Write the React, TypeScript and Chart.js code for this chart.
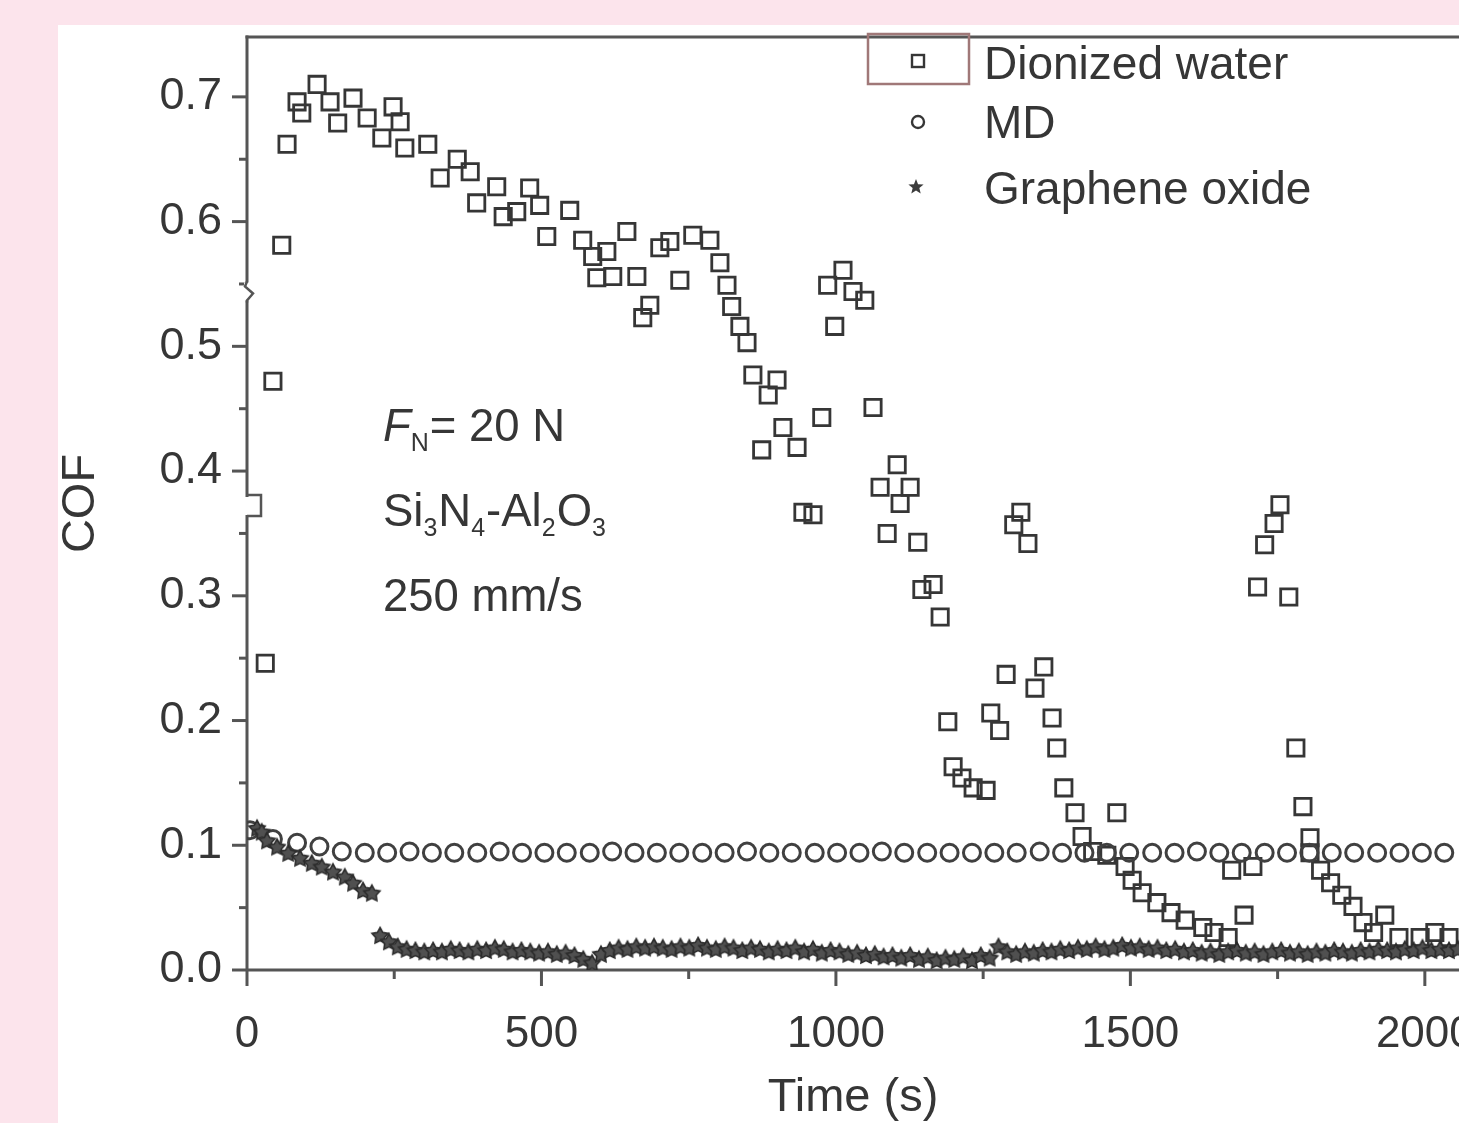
import React, { useEffect, useRef } from "react";
import { Chart, registerables } from "chart.js";

Chart.register(...registerables);

// ---------- data ----------
const dwTime = [31, 44, 59, 68, 85, 93, 119, 141, 154, 180, 204, 229, 248, 260, 268, 307, 328, 357, 379, 390, 424, 435, 458, 480, 497, 509, 548, 570, 587, 611, 594, 621, 645, 662, 684, 672, 701, 718, 735, 757, 786, 803, 815, 823, 837, 849, 859, 900, 885, 910, 874, 934, 976, 944, 961, 986, 1012, 1029, 1049, 998, 1063, 1104, 1075, 1126, 1109, 1087, 1139, 1165, 1146, 1177, 1190, 1199, 1214, 1233, 1255, 1263, 1278, 1289, 1314, 1302, 1326, 1338, 1353, 1367, 1375, 1387, 1406, 1418, 1436, 1460, 1477, 1491, 1503, 1520, 1545, 1569, 1593, 1623, 1642, 1666, 1672, 1693, 1708, 1716, 1728, 1744, 1754, 1769, 1781, 1793, 1805, 1805, 1823, 1840, 1859, 1878, 1895, 1913, 1932, 1956, 1992, 2017, 2041];
const dwCof = [0.246, 0.472, 0.581, 0.662, 0.696, 0.687, 0.71, 0.696, 0.679, 0.699, 0.683, 0.667, 0.692, 0.68, 0.659, 0.662, 0.635, 0.65, 0.64, 0.615, 0.628, 0.604, 0.608, 0.627, 0.613, 0.588, 0.609, 0.585, 0.572, 0.576, 0.555, 0.556, 0.592, 0.556, 0.533, 0.523, 0.579, 0.584, 0.553, 0.589, 0.585, 0.567, 0.549, 0.532, 0.516, 0.503, 0.477, 0.473, 0.461, 0.435, 0.417, 0.419, 0.443, 0.367, 0.365, 0.549, 0.561, 0.544, 0.537, 0.516, 0.451, 0.405, 0.387, 0.387, 0.374, 0.35, 0.343, 0.309, 0.305, 0.283, 0.199, 0.163, 0.154, 0.146, 0.144, 0.206, 0.192, 0.237, 0.367, 0.357, 0.342, 0.226, 0.243, 0.202, 0.178, 0.146, 0.126, 0.107, 0.095, 0.092, 0.126, 0.083, 0.072, 0.062, 0.054, 0.046, 0.04, 0.034, 0.03, 0.026, 0.08, 0.044, 0.083, 0.307, 0.341, 0.358, 0.373, 0.299, 0.178, 0.131, 0.106, 0.094, 0.08, 0.07, 0.06, 0.051, 0.038, 0.03, 0.044, 0.026, 0.026, 0.03, 0.026];

const mdTime = [5, 44, 85, 123, 161, 200, 238, 276, 314, 352, 391, 429, 467, 505, 543, 582, 620, 658, 696, 734, 773, 811, 849, 887, 925, 964, 1002, 1040, 1078, 1116, 1155, 1193, 1231, 1269, 1307, 1346, 1384, 1422, 1460, 1498, 1537, 1575, 1613, 1651, 1689, 1728, 1766, 1804, 1842, 1880, 1919, 1957, 1995, 2033];
const mdCof = [0.112, 0.105, 0.102, 0.099, 0.095, 0.094, 0.094, 0.095, 0.094, 0.094, 0.094, 0.095, 0.094, 0.094, 0.094, 0.094, 0.095, 0.094, 0.094, 0.094, 0.094, 0.094, 0.095, 0.094, 0.094, 0.094, 0.094, 0.094, 0.095, 0.094, 0.094, 0.094, 0.094, 0.094, 0.094, 0.095, 0.094, 0.094, 0.094, 0.094, 0.094, 0.094, 0.095, 0.094, 0.094, 0.094, 0.094, 0.094, 0.094, 0.094, 0.094, 0.094, 0.094, 0.094];

const goTime = [17, 25, 34, 51, 70, 90, 110, 127, 146, 166, 180, 197, 212, 226, 241, 256, 271, 286, 301, 316, 331, 346, 361, 376, 391, 406, 421, 436, 451, 466, 481, 496, 511, 526, 541, 556, 571, 586, 601, 616, 631, 646, 661, 676, 691, 706, 721, 736, 751, 766, 781, 796, 811, 826, 841, 856, 871, 886, 901, 916, 931, 946, 961, 976, 991, 1006, 1021, 1036, 1051, 1066, 1081, 1096, 1111, 1126, 1141, 1156, 1171, 1186, 1201, 1216, 1231, 1246, 1261, 1276, 1291, 1306, 1321, 1336, 1351, 1366, 1381, 1396, 1411, 1426, 1441, 1456, 1471, 1486, 1501, 1516, 1531, 1546, 1561, 1576, 1591, 1606, 1621, 1636, 1651, 1666, 1681, 1696, 1711, 1726, 1741, 1756, 1771, 1786, 1801, 1816, 1831, 1846, 1861, 1876, 1891, 1906, 1921, 1936, 1951, 1966, 1981, 1996, 2011, 2026, 2041, 2056];
const goCof = [0.114, 0.111, 0.104, 0.099, 0.094, 0.09, 0.086, 0.083, 0.079, 0.075, 0.07, 0.064, 0.062,
  0.028, 0.023, 0.019, 0.017, 0.016, 0.015, 0.016, 0.015, 0.017, 0.016, 0.015, 0.017, 0.016, 0.018, 0.017, 0.015, 0.016, 0.015, 0.014, 0.015, 0.013, 0.014, 0.012, 0.009, 0.006, 0.013,
  0.016, 0.018, 0.017, 0.019, 0.018, 0.019, 0.018, 0.017, 0.019, 0.018, 0.02, 0.018, 0.017, 0.019, 0.018, 0.016, 0.018, 0.017, 0.015, 0.017, 0.016, 0.018, 0.015, 0.017, 0.014, 0.016,
  0.015, 0.013, 0.014, 0.012, 0.013, 0.011, 0.012, 0.01, 0.012, 0.009, 0.011, 0.008, 0.01, 0.009, 0.011, 0.008, 0.012, 0.01, 0.019, 0.015, 0.013, 0.015, 0.014, 0.016, 0.015, 0.017,
  0.016, 0.018, 0.017, 0.019, 0.017, 0.018, 0.02, 0.018, 0.019, 0.017, 0.018, 0.016, 0.017, 0.015, 0.016, 0.014, 0.015, 0.013, 0.015, 0.016, 0.014, 0.015, 0.013, 0.015, 0.016,
  0.014, 0.015, 0.013, 0.015, 0.014, 0.016, 0.015, 0.014, 0.016, 0.015, 0.017, 0.016, 0.015, 0.017, 0.016, 0.018, 0.016, 0.017, 0.016, 0.017];

const seriesLabels = ["Dionized water", "MD", "Graphene oxide"];
const xMajorTicks = [0, 500, 1000, 1500, 2000];
const xMinorTicks = [250, 750, 1250, 1750];
const yMajorTicks = [0, 0.1, 0.2, 0.3, 0.4, 0.5, 0.6, 0.7];
const yMinorTicks = [0.05, 0.15, 0.25, 0.35, 0.45, 0.55, 0.65];
const yBreaks = [0.544, 0.372];
const xMin = 0;
const xMax = 2058;
const yMin = 0;
const yMax = 0.748;
const xTitle = "Time (s)";
const yTitle = "COF";

// ---------- style ----------
const FONT = '"Liberation Sans", Arial, Helvetica, sans-serif';
const TEXT = "#363636";
const AXIS = "#555555";
const MARK = "#363636";

function starPath(ctx: CanvasRenderingContext2D, cx: number, cy: number, ro: number, ri: number) {
  ctx.beginPath();
  for (let i = 0; i < 10; i++) {
    const r = i % 2 === 0 ? ro : ri;
    const a = -Math.PI / 2 + (i * Math.PI) / 5;
    const px = cx + r * Math.cos(a);
    const py = cy + r * Math.sin(a);
    if (i === 0) ctx.moveTo(px, py);
    else ctx.lineTo(px, py);
  }
  ctx.closePath();
}

function makeStar(size: number) {
  const c = document.createElement("canvas");
  c.width = size;
  c.height = size;
  const g = c.getContext("2d")!;
  starPath(g, size / 2, size / 2 + 1, size / 2 - 1.5, size / 4.4);
  g.fillStyle = "#505050";
  g.fill();
  g.lineWidth = 1.6;
  g.strokeStyle = "#2c2c2c";
  g.stroke();
  return c;
}

type Run = { t: string; sub?: boolean; italic?: boolean };

function drawRuns(ctx: CanvasRenderingContext2D, x: number, y: number, runs: Run[]) {
  let cx = x;
  ctx.textBaseline = "alphabetic";
  ctx.textAlign = "left";
  for (const r of runs) {
    const size = r.sub ? 25 : 45.5;
    ctx.font = `${r.italic ? "italic " : ""}${size}px ${FONT}`;
    ctx.fillText(r.t, cx, r.sub ? y + 10 : y);
    cx += ctx.measureText(r.t).width + (r.sub ? 1 : 0);
  }
}

const axesPlugin = {
  id: "axesDraw",
  beforeDatasetsDraw(chart: any) {
    const { ctx, chartArea: a, scales } = chart;
    const xs = scales.x;
    const ys = scales.y;
    ctx.save();
    ctx.strokeStyle = AXIS;
    ctx.lineWidth = 3;
    const line = (x1: number, y1: number, x2: number, y2: number) => {
      ctx.beginPath();
      ctx.moveTo(x1, y1);
      ctx.lineTo(x2, y2);
      ctx.stroke();
    };
    line(a.left, a.top - 1.5, a.left, a.bottom);
    line(a.left - 1.5, a.top, a.right, a.top);
    line(a.left, a.bottom, a.right, a.bottom);
    for (const v of yMajorTicks) {
      const p = ys.getPixelForValue(v);
      line(a.left - 15, p, a.left, p);
    }
    for (const v of yMinorTicks) {
      const p = ys.getPixelForValue(v);
      line(a.left - 8, p, a.left, p);
    }
    for (const v of xMajorTicks) {
      const p = xs.getPixelForValue(v);
      line(p, a.bottom, p, a.bottom + 16);
    }
    for (const v of xMinorTicks) {
      const p = xs.getPixelForValue(v);
      line(p, a.bottom, p, a.bottom + 9);
    }
    // axis breaks
    yBreaks.forEach((v, i) => {
      const p = ys.getPixelForValue(v);
      ctx.fillStyle = "#ffffff";
      ctx.fillRect(a.left - 3, p - 9, 6, 18);
      ctx.lineWidth = 2.5;
      ctx.beginPath();
      if (i === 0) {
        ctx.moveTo(a.left, p - 10);
        ctx.lineTo(a.left - 2, p - 5);
        ctx.lineTo(a.left + 6, p + 2);
        ctx.lineTo(a.left, p + 9);
        ctx.lineTo(a.left, p + 11);
      } else {
        ctx.moveTo(a.left, p - 11);
        ctx.lineTo(a.left + 14, p - 11);
        ctx.lineTo(a.left + 14, p + 10);
        ctx.lineTo(a.left, p + 10);
      }
      ctx.stroke();
      ctx.lineWidth = 3;
    });
    ctx.restore();
  },
  afterDatasetsDraw(chart: any) {
    const { ctx } = chart;
    ctx.save();
    ctx.fillStyle = TEXT;
    // annotation text
    drawRuns(ctx, 325, 416, [{ t: "F", italic: true }, { t: "N", sub: true }, { t: "= 20 N" }]);
    drawRuns(ctx, 325, 501, [
      { t: "Si" }, { t: "3", sub: true }, { t: "N" }, { t: "4", sub: true },
      { t: "-Al" }, { t: "2", sub: true }, { t: "O" }, { t: "3", sub: true },
    ]);
    drawRuns(ctx, 325, 586, [{ t: "250 mm/s" }]);

    // legend
    const mx = 860;
    const rows = [36, 97, 162];
    ctx.strokeStyle = "#a07878";
    ctx.lineWidth = 2.5;
    ctx.strokeRect(810, 9, 101, 50);
    ctx.strokeStyle = MARK;
    ctx.lineWidth = 2.4;
    ctx.strokeRect(mx - 6, rows[0] - 6, 12, 12);
    ctx.beginPath();
    ctx.arc(mx, rows[1], 6, 0, Math.PI * 2);
    ctx.stroke();
    starPath(ctx, mx - 2, rows[2], 8, 3.5);
    ctx.fillStyle = "#3c3c3c";
    ctx.fill();
    ctx.fillStyle = TEXT;
    ctx.font = `46px ${FONT}`;
    ctx.textAlign = "left";
    ctx.textBaseline = "middle";
    const ty = [41, 100, 166];
    seriesLabels.forEach((s, i) => ctx.fillText(s, 926, ty[i]));
    ctx.restore();
  },
};

export default function App() {
  const ref = useRef<HTMLCanvasElement | null>(null);

  useEffect(() => {
    document.body.style.margin = "0";
    const canvas = ref.current!;
    const star = makeStar(20);
    const chart = new Chart(canvas, {
      type: "scatter",
      data: {
        datasets: [
          {
            label: seriesLabels[2],
            data: goTime.map((t, i) => ({ x: t, y: goCof[i] })),
            pointStyle: star as any,
            pointRadius: 10,
            borderColor: MARK,
            backgroundColor: MARK,
          },
          {
            label: seriesLabels[1],
            data: mdTime.map((t, i) => ({ x: t, y: mdCof[i] })),
            pointStyle: "circle",
            pointRadius: 8.5,
            borderWidth: 3,
            borderColor: "#404040",
            backgroundColor: "rgba(255,255,255,0)",
          },
          {
            label: seriesLabels[0],
            data: dwTime.map((t, i) => ({ x: t, y: dwCof[i] })),
            pointStyle: "rect",
            pointRadius: 11.5,
            borderWidth: 2.8,
            borderColor: MARK,
            backgroundColor: "rgba(255,255,255,0)",
          },
        ],
      },
      options: {
        responsive: false,
        animation: false,
        devicePixelRatio: 1,
        layout: { autoPadding: false, padding: { top: 12, left: 0, right: 0, bottom: 0 } },
        plugins: { legend: { display: false }, tooltip: { enabled: false } },
        scales: {
          x: {
            type: "linear",
            min: xMin,
            max: xMax,
            afterBuildTicks: (s: any) => {
              s.ticks = xMajorTicks.map((v) => ({ value: v }));
            },
            afterFit: (s: any) => {
              s.height = 153;
              s.paddingLeft = 0;
              s.paddingRight = 0;
            },
            grid: { display: false, drawTicks: false },
            border: { display: false },
            ticks: {
              font: { family: FONT, size: 44 },
              color: TEXT,
              padding: 38,
              maxRotation: 0,
              autoSkip: false,
              callback: (v: any) => String(v),
            },
            title: {
              display: true,
              text: xTitle,
              color: TEXT,
              font: { family: FONT, size: 47, lineHeight: 1 },
              padding: { top: 0, bottom: 1.5 },
            },
          },
          y: {
            type: "linear",
            min: yMin,
            max: yMax,
            afterBuildTicks: (s: any) => {
              s.ticks = yMajorTicks.map((v) => ({ value: v }));
            },
            afterFit: (s: any) => {
              s.width = 189;
              s.paddingTop = 0;
              s.paddingBottom = 0;
            },
            grid: { display: false, drawTicks: false },
            border: { display: false },
            ticks: {
              font: { family: FONT, size: 45 },
              color: TEXT,
              padding: 25,
              autoSkip: false,
              callback: (v: any) => Number(v).toFixed(1),
            },
            title: {
              display: true,
              text: yTitle,
              color: TEXT,
              font: { family: FONT, size: 47, lineHeight: 1 },
              padding: { top: 0, bottom: 0 },
            },
          },
        },
      },
      plugins: [axesPlugin],
    } as any);
    return () => chart.destroy();
  }, []);

  return (
    <div
      style={{
        position: "fixed",
        left: 0,
        top: 0,
        width: 1459,
        height: 1123,
        background: "#fce4ec",
        overflow: "hidden",
      }}
    >
      <div
        style={{
          position: "absolute",
          left: 58,
          top: 25,
          width: 1401,
          height: 1098,
          background: "#ffffff",
        }}
      >
        <canvas ref={ref} width={1401} height={1098} style={{ width: 1401, height: 1098, display: "block" }} />
      </div>
    </div>
  );
}
